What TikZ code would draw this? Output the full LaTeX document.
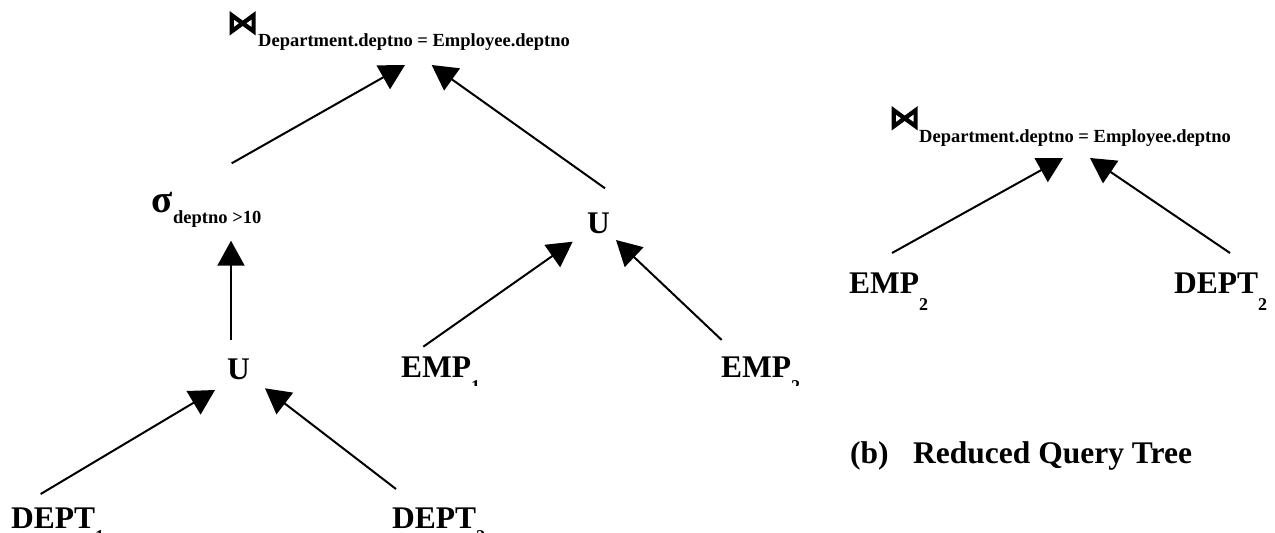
\documentclass[tikz,border=0pt]{standalone}
\usepackage{fontspec}
\setmainfont{Liberation Serif}
\newfontfamily\opfont{DejaVu Sans}[FakeBold=5]
\usetikzlibrary{arrows.meta}
% subscript set well below the baseline
\newcommand\lowsub[2][17pt]{\raisebox{-#1}{\fontsize{18}{18}\selectfont #2}}
\begin{document}
\begin{tikzpicture}[x=1pt,y=-1pt,
  lbl/.style={anchor=base west,inner sep=0pt,font=\fontsize{31.5}{31.5}\selectfont\bfseries},
  cond/.style={anchor=base west,inner sep=0pt,font=\fontsize{18.5}{18.5}\selectfont\bfseries},
  sel/.style={anchor=base west,inner sep=0pt,font=\fontsize{39}{39}\selectfont\bfseries},
  joinsym/.style={anchor=base west,inner sep=0pt,font=\fontsize{31}{31}\selectfont\opfont},
  arr/.style={line width=2pt,-{Triangle[length=25pt,width=27pt]}}]
\path[use as bounding box,clip] (0,0) rectangle (1275,533);
\fill[white] (0,0) rectangle (1275,533);

% ---- (a) query tree ----
\node[joinsym] (joinsymA) at (227,33) {⋈};
\node[cond]    (joinA)    at (258,46.7) {Department.deptno = Employee.deptno};
\node[sel]     (sig)      at (151,212) {σ};
\node[cond]    (sigc)     at (173,223.3) {deptno >10};
\node[lbl]     (uR)       at (587,233) {U};
\node[lbl]     (uL)       at (227,379) {U};
\begin{scope}
  \clip (380,330) rectangle (830,385);
  \node[lbl] (emp1)  at (401,377) {EMP\lowsub[15pt]{1}};
  \node[lbl] (emp2L) at (721,377) {EMP\lowsub[15pt]{2}};
\end{scope}
\node[lbl] (dept1)  at (11,528)  {DEPT\lowsub[14pt]{1}};
\node[lbl] (dept2L) at (392,528) {DEPT\lowsub[14pt]{2}};

\draw[arr] ([shift={(80.7,-48.7)}]sig.base west)  -- ([shift={(147,18.3)}]joinA.base west);
\draw[arr] ([shift={(18,-44.7)}]uR.base west)     -- ([shift={(173.7,18.3)}]joinA.base west);
\draw[arr] ([shift={(4,-39)}]uL.base west)        -- ([shift={(80,28.7)}]sig.base west);
\draw[arr] ([shift={(29.7,-34)}]dept1.base west)  -- ([shift={(-12,11)}]uL.base west);
\draw[arr] ([shift={(4,-39)}]dept2L.base west)    -- ([shift={(38,9.3)}]uL.base west);
\draw[arr] ([shift={(22.3,-30.3)}]emp1.base west) -- ([shift={(-14.3,8.7)}]uR.base west);
\draw[arr] ([shift={(0.7,-37)}]emp2L.base west)   -- ([shift={(29,7)}]uR.base west);

% ---- (b) reduced query tree ----
\node[joinsym] (joinsymB) at (889,128) {⋈};
\node[cond]    (joinB)    at (919,142) {Department.deptno = Employee.deptno};
\node[lbl] (emp2R)  at (849,293.3)  {EMP\lowsub{2}};
\node[lbl] (dept2R) at (1174,293.3) {DEPT\lowsub{2}};

\draw[arr] ([shift={(43,-40.3)}]emp2R.base west)  -- ([shift={(144,16)}]joinB.base west);
\draw[arr] ([shift={(56,-40.3)}]dept2R.base west) -- ([shift={(171,16)}]joinB.base west);

\node[lbl] (capb) at (850,463) {(b)};
\node[lbl] (capt) at (913,463) {Reduced Query Tree};
\end{tikzpicture}
\end{document}
